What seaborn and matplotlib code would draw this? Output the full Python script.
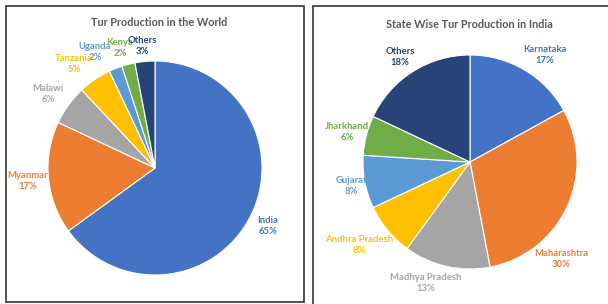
import matplotlib.pyplot as plt
import seaborn as sns
from matplotlib.patches import Rectangle

# Data
world_countries = ['India', 'Myanmar', 'Malawi', 'Tanzania', 'Uganda', 'Kenya', 'Others']
world_share = [65, 17, 6, 5, 2, 2, 3]

india_states = ['Karnataka', 'Maharashtra', 'Madhya Pradesh', 'Andhra Pradesh',
                'Gujarat', 'Jharkhand', 'Others']
india_share = [17, 30, 13, 8, 8, 6, 18]

# Office colour palette
palette = sns.color_palette(['#4472C4', '#ED7D31', '#A5A5A5', '#FFC000',
                             '#5B9BD5', '#70AD47', '#264478'])

sns.set_theme(style='white')
plt.rcParams['font.family'] = ['Lato', 'DejaVu Sans']

W, H = 608, 304
fig = plt.figure(figsize=(W / 100, H / 100), dpi=100)
fig.patch.set_facecolor('white')


def px_axes(cx, cy, r):
    # axes holding a pie of radius r px centred at (cx, cy) px from top-left
    ax = fig.add_axes([(cx - r) / W, (H - cy - r) / H, 2 * r / W, 2 * r / H])
    return ax


def draw_pie(ax, labels, values, label_pos, title, title_pos):
    ax.pie(values, colors=palette, startangle=90, counterclock=False,
           radius=1, wedgeprops=dict(edgecolor='white', linewidth=0.8))
    ax.set_xlim(-1, 1)
    ax.set_ylim(-1, 1)
    ax.set_aspect('equal')
    ax.axis('off')
    total = sum(values)
    for i, (lab, val) in enumerate(zip(labels, values)):
        x, y = label_pos[i]
        col = palette[i]
        fig.text(x / W, 1 - y / H, f"{lab}\n{round(100 * val / total)}%",
                 ha='center', va='center', fontsize=6.8, fontweight='bold',
                 color=col, linespacing=1.2)
    fig.text(title_pos[0] / W, 1 - title_pos[1] / H, title, ha='center',
             va='center', fontsize=7.8, fontweight='bold', color='#595959')


# panel borders
fig.add_artist(Rectangle((6 / W, 1 - 302 / H), 298 / W, 296 / H,
                         transform=fig.transFigure, fill=False,
                         edgecolor='#333333', linewidth=1.2))
fig.add_artist(Rectangle((313 / W, -0.05), 300 / W, 1.05 - 6 / H,
                         transform=fig.transFigure, fill=False,
                         edgecolor='#333333', linewidth=1.2))

ax1 = px_axes(155, 168, 107)
world_label_pos = [(268, 226), (28, 181), (48, 94), (74, 64), (95, 52),
                   (120, 48), (142, 46)]
draw_pie(ax1, world_countries, world_share, world_label_pos,
         'Tur Production in the World', (159, 23))

ax2 = px_axes(470, 162, 107)
india_label_pos = [(545, 55), (561, 259), (426, 283), (359, 245),
                   (351, 186), (347, 132), (400, 57)]
draw_pie(ax2, india_states, india_share, india_label_pos,
         'State Wise Tur Production in India', (469, 25))

plt.savefig('out.png', dpi=100)
